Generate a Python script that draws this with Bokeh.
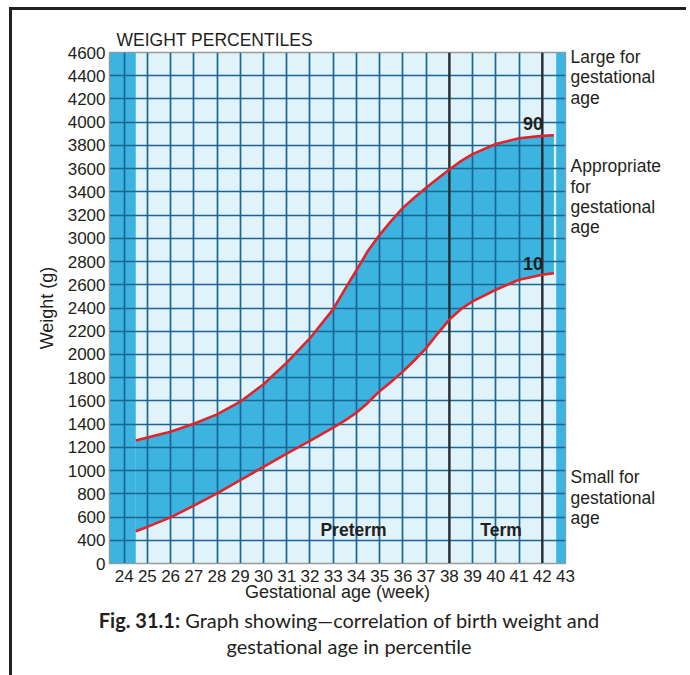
from bokeh.plotting import figure
from bokeh.models import Label, Span, FixedTicker, LinearAxis, Div, Spacer
from bokeh.layouts import column, row
from bokeh.embed import file_html
from bokeh.resources import INLINE

# ---- data ----
weeks = [24.5, 25, 26, 27, 28, 29, 30, 31, 32, 33, 33.5, 34, 34.5, 35, 35.5,
         36, 36.5, 37, 37.5, 38, 38.5, 39, 40, 41, 42, 42.5]
p90 = [1260, 1285, 1335, 1404, 1484, 1593, 1744, 1930, 2140, 2390, 2560, 2725,
       2893, 3030, 3150, 3262, 3351, 3435, 3515, 3592, 3665, 3725, 3812, 3862,
       3882, 3888]
p10 = [477, 515, 597, 698, 803, 918, 1032, 1146, 1255, 1370, 1430, 1498, 1585,
       1684, 1765, 1852, 1950, 2055, 2180, 2300, 2390, 2457, 2557, 2643, 2686,
       2700]

x_ticks = list(range(24, 44))
grid_weeks = list(range(24, 43))
y_ticks = list(range(200, 4601, 200))
y_grid = list(range(400, 4401, 200))
y_overrides = {200: "0"}
term_bounds = [38, 42]
left_band = [23.37, 24.5]
right_band = [42.6, 43.0]
curve_labels = ["90", "10"]
region_texts = ["Preterm", "Term"]
side_texts = ["Large for", "gestational", "age",
              "Appropriate", "for", "gestational", "age",
              "Small for", "gestational", "age"]
title_text = "WEIGHT PERCENTILES"
caption_bold = "Fig. 31.1:"
caption_line1 = "Graph showing\u2014correlation of birth weight and"
caption_line2 = "gestational age in percentile"

X0, X1 = 23.37, 43.0
Y0, Y1 = 200, 4600

# page geometry (pixels)
OX, OY = 12, 10            # where the figure starts on the page
FL, FR, FT, FB = 109, 565, 52, 563
W, H = 674, 600
CAP_H = 62


def dx(px):
    return X0 + (px - FL) * (X1 - X0) / (FR - FL)


def dy(py):
    return Y0 + (FB - py) * (Y1 - Y0) / (FB - FT)


FONT = "Liberation Sans"
TXT = "#231f20"
BLUE = "#3db3e0"
LIGHT = "#e0f2fa"
GRID = "#1b6594"
RED = "#e2232a"

p = figure(width=W, height=H, x_range=(X0, X1), y_range=(Y0, Y1),
           output_backend="svg", toolbar_location=None,
           min_border_left=FL - OX, min_border_right=W - (FR - OX),
           min_border_top=FT - OY, min_border_bottom=H - (FB - OY),
           margin=0)
p.background_fill_color = LIGHT
p.border_fill_color = "white"
p.outline_line_color = "#9a9a9a"
p.outline_line_width = 1.5

# title
p.title.text = title_text
p.title.align = "left"
p.title.offset = 7
p.title.standoff = 6
p.title.text_font = FONT
p.title.text_font_size = "17.5px"
p.title.text_font_style = "normal"
p.title.text_color = TXT

# filled areas under the grid
p.quad(left=[left_band[0]], right=[left_band[1]], bottom=[Y0], top=[Y1],
       fill_color=BLUE, line_color=None, level="image")
p.quad(left=[right_band[0]], right=[right_band[1]], bottom=[Y0], top=[Y1],
       fill_color=BLUE, line_color=None, level="image")
p.varea(x=weeks, y1=p10, y2=p90, fill_color=BLUE, level="image")

# grid
p.xgrid.ticker = FixedTicker(ticks=grid_weeks)
p.ygrid.ticker = FixedTicker(ticks=y_grid)
for g in (p.xgrid, p.ygrid):
    g.grid_line_color = GRID
    g.grid_line_width = 1.7
    g.grid_line_alpha = 1.0

for t in term_bounds:
    p.add_layout(Span(location=t, dimension="height", line_color="#2a2a2a",
                      line_width=2.2, level="underlay"))

# curves
p.line(weeks, p90, line_color=RED, line_width=2.6)
p.line(weeks, p10, line_color=RED, line_width=2.6)

# axes
p.xaxis.ticker = FixedTicker(ticks=x_ticks)
p.yaxis.ticker = FixedTicker(ticks=y_ticks)
p.yaxis.major_label_overrides = y_overrides
for ax in (p.xaxis, p.yaxis):
    ax.major_tick_line_color = None
    ax.minor_tick_line_color = None
    ax.major_tick_out = 0
    ax.minor_tick_out = 0
    ax.axis_line_color = "#9a9a9a"
    ax.major_label_text_font = FONT
    ax.major_label_text_font_size = "17px"
    ax.major_label_text_color = TXT
    ax.axis_label_text_font = FONT
    ax.axis_label_text_font_size = "18px"
    ax.axis_label_text_font_style = "normal"
    ax.axis_label_text_color = TXT
p.xaxis.major_label_standoff = 6
p.yaxis.major_label_standoff = 4
p.xaxis.axis_label = "Gestational age (week)"
p.yaxis.axis_label = "Weight (g)"
p.xaxis.axis_label_standoff = -3
p.yaxis.axis_label_standoff = 8

# side texts as a right-hand axis
side_centers = [56.5, 77, 97.5, 165.7, 186, 206.3, 226.6, 476.7, 497, 517.3]
side_ticks = [round(dy(c)) for c in side_centers]
side_axis = LinearAxis(ticker=FixedTicker(ticks=side_ticks),
                       major_label_overrides={t: s for t, s in zip(side_ticks, side_texts)},
                       axis_line_color=None, major_tick_line_color=None,
                       minor_tick_line_color=None, major_tick_out=0, minor_tick_out=0,
                       major_label_standoff=5,
                       major_label_text_font=FONT, major_label_text_font_size="17.5px",
                       major_label_text_color=TXT)
p.add_layout(side_axis, "right")

# curve labels
for txt, py in zip(curve_labels, [122.7, 262.7]):
    p.add_layout(Label(x=dx(532.5), y=dy(py), text=txt,
                       text_font=FONT, text_font_size="18px", text_font_style="bold",
                       text_color=TXT, text_align="center", text_baseline="middle"))

for txt, px in zip(region_texts, [353, 500.5]):
    p.add_layout(Label(x=dx(px), y=dy(529), text=txt,
                       text_font=FONT, text_font_size="17.5px", text_font_style="bold",
                       text_color=TXT, text_align="center", text_baseline="middle"))

# caption
cap_html = ('<div style="display: block; position: relative; top: -3px; width: %dpx; '
            'font-family: Lato, sans-serif; font-size: 20px; color: %s; '
            'text-align: center; line-height: 26px;">'
            '<b>%s</b> %s<br>%s</div>' % (W, TXT, caption_bold, caption_line1, caption_line2))
caption = Div(text=cap_html, width=W, height=CAP_H, margin=0,
              styles={"text-align": "center", "width": "%dpx" % W})

# page frame lines
top_line = Div(text="", width=W, height=3, margin=0,
               styles={"background-color": "#222222"})
left_line = Div(text="", width=3, height=3 + H + CAP_H + 3, margin=0,
                styles={"background-color": "#222222"})

layout = column(Spacer(height=OY - 3, width=10, margin=0),
                row(Spacer(width=OX - 3, height=10, margin=0), left_line,
                    column(top_line, p, caption, spacing=0), spacing=0),
                spacing=0)

open("out.html", "w").write(file_html(layout, INLINE))
